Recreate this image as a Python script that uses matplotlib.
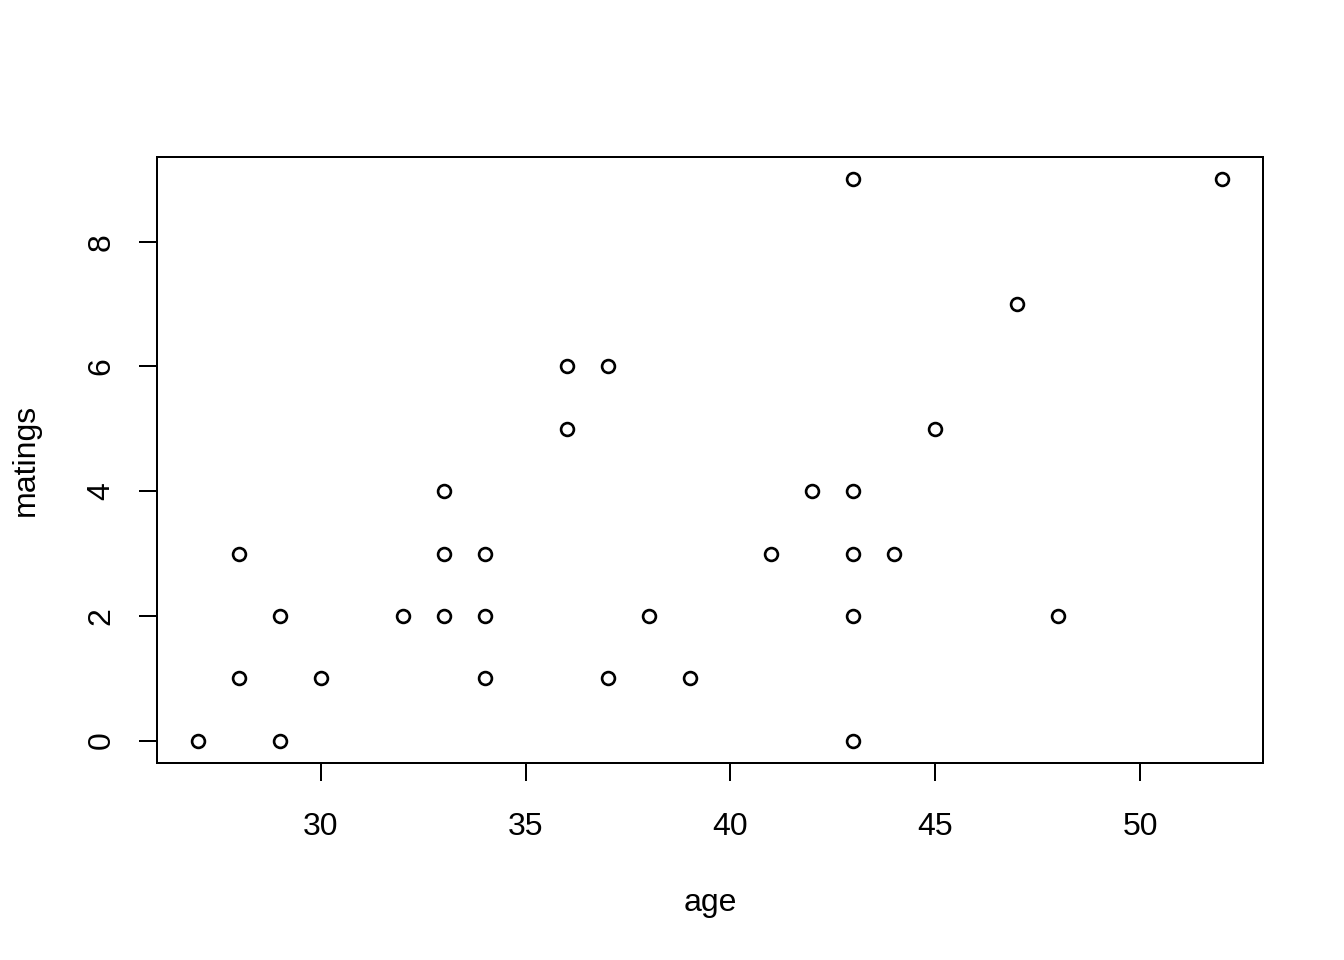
import matplotlib
matplotlib.use("Agg")
import matplotlib.pyplot as plt

# distinct (age, matings) points as visible in the chart
age = [27, 28, 28, 29, 29, 30, 32, 33, 33, 33, 34, 34, 34, 36, 36, 37, 37,
       38, 39, 41, 42, 43, 43, 43, 43, 43, 44, 45, 47, 48, 52]
matings = [0, 1, 3, 0, 2, 1, 2, 2, 3, 4, 1, 2, 3, 5, 6, 1, 6,
           2, 1, 3, 4, 0, 2, 3, 4, 9, 3, 5, 7, 2, 9]
xticks = [30, 35, 40, 45, 50]
yticks = [0, 2, 4, 6, 8]

plt.rcParams['font.family'] = ['Liberation Sans', 'DejaVu Sans']
fig = plt.figure(figsize=(7, 5), dpi=192)
ax = fig.add_axes([157/1344, 1-763/960, (1263-157)/1344, (763-157)/960])
ax.plot(age, matings, linestyle='none', marker='o', markersize=4.8,
        markerfacecolor='none', markeredgecolor='black', markeredgewidth=1.0)
ax.set_xlim(26, 53)
ax.set_ylim(-0.36, 9.36)
ax.set_xticks(xticks)
ax.set_yticks(yticks)
ax.set_yticklabels([str(v) for v in yticks], rotation=90, va='center')
ax.tick_params(axis='both', length=6.75, width=0.75, labelsize=12)
ax.tick_params(axis='x', pad=11.5)
ax.tick_params(axis='y', pad=8.5)
for s in ax.spines.values():
    s.set_linewidth(0.75)
ax.set_xlabel('age', fontsize=12, labelpad=17.5)
ax.set_ylabel('matings', fontsize=12, labelpad=17)
fig.savefig('out.png', dpi=192)
